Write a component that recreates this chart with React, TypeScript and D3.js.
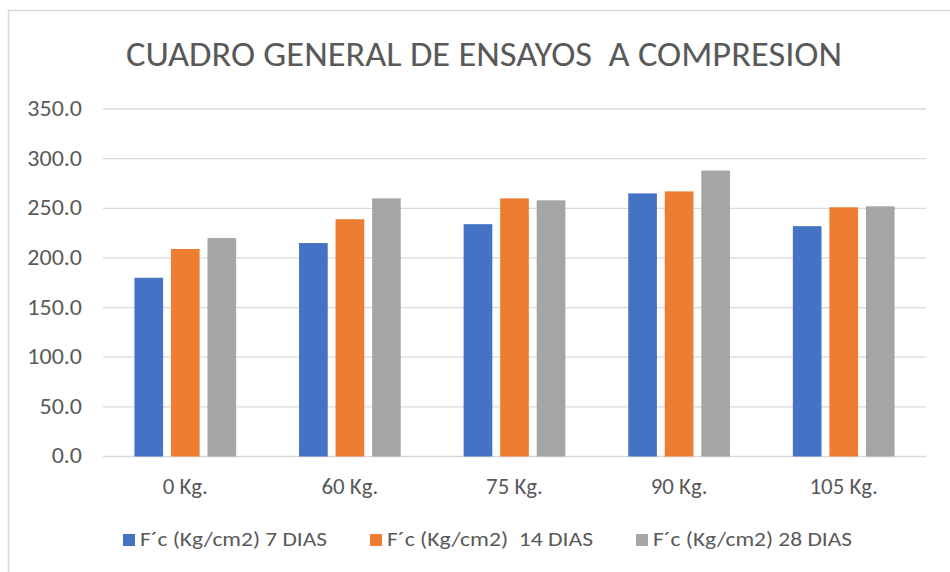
import React from "react";
import * as d3 from "d3";

const categories = ["0 Kg.", "60 Kg.", "75 Kg.", "90 Kg.", "105 Kg."];
const seriesNames = ["F´c (Kg/cm2) 7 DIAS", "F´c (Kg/cm2)  14 DIAS", "F´c (Kg/cm2) 28 DIAS"];
const dias7 = [180, 215, 234, 265, 232];
const dias14 = [209, 239, 260, 267, 251];
const dias28 = [220, 260, 258, 288, 252];
const yTicks = [0, 50, 100, 150, 200, 250, 300, 350];
const titleText = "CUADRO GENERAL DE ENSAYOS  A COMPRESION";

const colors = ["#4472C4", "#ED7D31", "#A5A5A5"];
const textColor = "#595959";
const gridColor = "#d9d9d9";
const font = "Carlito, Calibri, 'Open Sans', sans-serif";

export default function App() {
  const W = 950;
  const H = 572;
  const values = [dias7, dias14, dias28];

  const x = d3
    .scaleBand<string>()
    .domain(categories)
    .range([103, 926])
    .paddingInner(0.382)
    .paddingOuter(0.191);
  const xs = d3
    .scaleBand<number>()
    .domain(d3.range(seriesNames.length))
    .range([0, x.bandwidth()])
    .paddingInner(0.215);
  const y = d3.scaleLinear().domain([0, 350]).range([456.5, 109]);
  const fmt = d3.format(".1f");

  const legendX = [123, 370, 636];
  const legendW = [187, 206, 199];

  return (
    <svg
      width={W}
      height={H}
      style={{ position: "absolute", left: 0, top: 0, background: "#fff" }}
      fontFamily={font}
    >
      <rect x={8.5} y={10.5} width={W} height={H + 20} fill="#fff" stroke={gridColor} strokeWidth={1.5} />
      <text
        x={484}
        y={66}
        textAnchor="middle"
        fontSize={35}
        fill={textColor}
        textLength={716}
        lengthAdjust="spacingAndGlyphs"
        style={{ whiteSpace: "pre" }}
      >
        {titleText}
      </text>

      {yTicks.map((t) => (
        <g key={t}>
          <line x1={103} x2={926} y1={y(t)} y2={y(t)} stroke={gridColor} strokeWidth={1.3} />
          <text
            x={82}
            y={y(t) + 7}
            textAnchor="end"
            fontSize={22}
            fill={textColor}
            transform={`translate(82,0) scale(1.09,1) translate(-82,0)`}
          >
            {fmt(t)}
          </text>
        </g>
      ))}

      {categories.map((c, i) => {
        const cx = (x(c) as number) + x.bandwidth() / 2;
        return (
          <g key={c}>
            {values.map((vals, s) => (
              <rect
                key={s}
                x={(x(c) as number) + (xs(s) as number)}
                y={y(vals[i])}
                width={xs.bandwidth()}
                height={y(0) - y(vals[i])}
                fill={colors[s]}
              />
            ))}
            <text
              x={cx}
              y={494}
              textAnchor="middle"
              fontSize={22}
              fill={textColor}
              transform={`translate(${cx},0) scale(1.04,1) translate(${-cx},0)`}
            >
              {c}
            </text>
          </g>
        );
      })}

      {seriesNames.map((n, s) => (
        <g key={n}>
          <rect x={legendX[s]} y={534} width={12} height={12} fill={colors[s]} />
          <text
            x={legendX[s] + 17}
            y={546}
            fontSize={20}
            fill={textColor}
            textLength={legendW[s]}
            lengthAdjust="spacingAndGlyphs"
            style={{ whiteSpace: "pre" }}
          >
            {n}
          </text>
        </g>
      ))}
    </svg>
  );
}
